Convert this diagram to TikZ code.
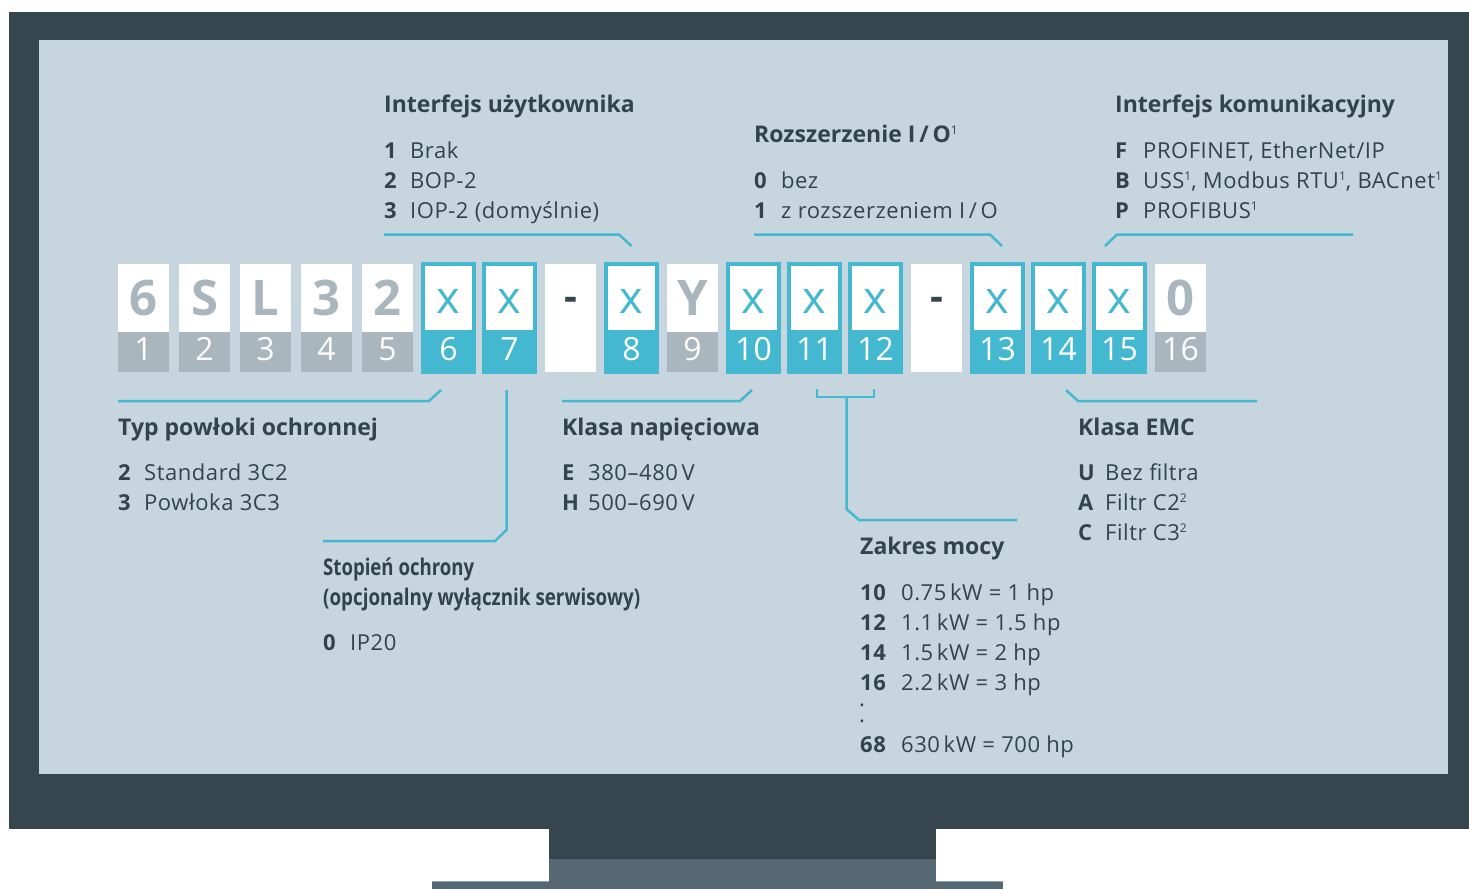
\documentclass[tikz,border=0pt]{standalone}
\usepackage{fontspec}
\setmainfont{Open Sans}
\newfontfamily\itemfont[LetterSpace=2.5]{Open Sans}
\usetikzlibrary{calc}
\definecolor{cframe}{HTML}{35464F}
\definecolor{cscreen}{HTML}{C6D5DE}
\definecolor{cteal}{HTML}{43B8D0}
\definecolor{cgrey}{HTML}{A9B6BE}
\definecolor{ctext}{HTML}{33434C}
\definecolor{cstand}{HTML}{566873}
\definecolor{cedge}{HTML}{929FA7}
\newcommand\keyed[3]{\makebox[#1][l]{\bfseries #2}#3}
\newcommand\sups[1]{\raisebox{7.5pt}{\fontsize{12}{12}\selectfont\mdseries #1}}
\begin{document}
\begin{tikzpicture}[x=1pt,y=-1pt,
  topg/.style={fill=white,inner sep=0pt,minimum width=51pt,minimum height=68pt,
     text=cgrey,font=\fontsize{49}{49}\selectfont\bfseries,text height=35pt,text depth=0pt},
  topt/.style={fill=white,draw=cteal,line width=3.5pt,inner sep=0pt,minimum width=51pt,minimum height=68pt,
     text=cteal,font=\fontsize{45}{45}\selectfont,text height=31pt,text depth=0pt},
  botg/.style={fill=cgrey,inner sep=0pt,minimum width=51pt,minimum height=40pt,
     text=white,font=\fontsize{32}{32}\selectfont,text height=16pt,text depth=0pt},
  bott/.style={fill=cteal,draw=cteal,line width=3.5pt,inner sep=0pt,minimum width=51pt,minimum height=40pt,
     text=white,font=\fontsize{32}{32}\selectfont,text height=16pt,text depth=0pt},
  dashbox/.style={fill=white,inner sep=0pt,minimum width=51pt,minimum height=108pt,
     text=cframe,font=\fontsize{40}{40}\selectfont\bfseries,text height=0pt,text depth=16pt},
  head/.style={anchor=base west,inner sep=0pt,text=ctext,font=\fontsize{23}{30}\selectfont\bfseries},
  itemtext/.style={anchor=base west,inner sep=0pt,text=ctext,font=\fontsize{22}{30}\itemfont},
  conn/.style={draw=cteal,line width=2.5pt}]
\useasboundingbox (0,0) rectangle (1469,889);
% monitor
\fill[white] (0,0) rectangle (1469,889);
\fill[cframe] (9,12) rectangle (1469,829);
\fill[cscreen] (39,40) rectangle (1448,773.5);
\fill[cframe] (549,829) rectangle (936,859);
\fill[cstand] (549,859) rectangle (936,889);
\fill[cstand] (432,881) rectangle (1003,889);
\draw[cedge,line width=1pt] (432,881.5) -- (549,881.5);
\draw[cedge,line width=1pt] (936,881.5) -- (1003,881.5);
% code boxes
\foreach \i/\s/\c in {1/1/6,2/2/S,3/3/L,4/4/3,5/5/2,9/10/Y,16/18/0}{
  \node[topg] (t\i) at ({143.5+61*(\s-1)},298) {\c};
  \node[botg] (n\i) at ({143.5+61*(\s-1)},352) {\i};
}
\foreach \i/\s in {6/6,7/7,8/9,10/11,11/12,12/13,13/15,14/16,15/17}{
  \node[topt] (t\i) at ({143.5+61*(\s-1)},298) {x};
  \node[bott] (n\i) at ({143.5+61*(\s-1)},352) {\i};
}
\node[dashbox] (d1) at ({143.5+61*7},318) {-};
\node[dashbox] (d2) at ({143.5+61*13},318) {-};
% connector points
\coordinate (a1) at (384,234.5);  \coordinate (a2) at (619,234.5);  \coordinate (a3) at (631.5,246);
\coordinate (b1) at (754,234.5);  \coordinate (b2) at (990,234.5);  \coordinate (b3) at (1002,246);
\coordinate (c1) at (1105,246);   \coordinate (c2) at (1117,234.5); \coordinate (c3) at (1353,234.5);
\coordinate (e1) at (118,401);    \coordinate (e2) at (429,401);    \coordinate (e3) at (441,390);
\coordinate (f1) at (506.5,390);  \coordinate (f2) at (506.5,530);  \coordinate (f3) at (495,541);  \coordinate (f4) at (323,541);
\coordinate (g1) at (562,401);    \coordinate (g2) at (740,401);    \coordinate (g3) at (752,390);
\coordinate (k1) at (817,389);    \coordinate (k2) at (817,397);    \coordinate (k3) at (874,397);   \coordinate (k4) at (874,389);
\coordinate (m1) at (846.5,397);  \coordinate (m2) at (846.5,509);  \coordinate (m3) at (859,520);   \coordinate (m4) at (1017,520);
\coordinate (p1) at (1066,390);   \coordinate (p2) at (1078,401);   \coordinate (p3) at (1257,401);
\draw[conn] (a1) -- (a2) -- (a3);
\draw[conn] (b1) -- (b2) -- (b3);
\draw[conn] (c1) -- (c2) -- (c3);
\draw[conn] (e1) -- (e2) -- (e3);
\draw[conn] (f1) -- (f2) -- (f3) -- (f4);
\draw[conn] (g1) -- (g2) -- (g3);
\draw[conn] (k1) -- (k2) -- (k3) -- (k4);
\draw[conn] (m1) -- (m2) -- (m3) -- (m4);
\draw[conn] (p1) -- (p2) -- (p3);
% Interfejs użytkownika
\node[head] (h1) at (384,112) {Interfejs użytkownika};
\node[itemtext] (i1a) at (384,158) {\keyed{26pt}{1}{Brak}};
\node[itemtext] (i1b) at (384,188) {\keyed{26pt}{2}{BOP-2}};
\node[itemtext] (i1c) at (384,218) {\keyed{26pt}{3}{IOP-2 (domyślnie)}};
% Rozszerzenie I/O
\node[head] (h2) at (754,142) {Rozszerzenie I\,/\,O\sups{1}};
\node[itemtext] (i2a) at (754,188) {\keyed{27pt}{0}{bez}};
\node[itemtext] (i2b) at (754,218) {\keyed{27pt}{1}{z rozszerzeniem I\,/\,O}};
% Interfejs komunikacyjny
\node[head] (h3) at (1115,112) {Interfejs komunikacyjny};
\node[itemtext] (i3a) at (1115,158) {\keyed{28pt}{F}{PROFINET, EtherNet/IP}};
\node[itemtext] (i3b) at (1115,188) {\keyed{28pt}{B}{USS\sups{1}, Modbus RTU\sups{1}, BACnet\sups{1}}};
\node[itemtext] (i3c) at (1115,218) {\keyed{28pt}{P}{PROFIBUS\sups{1}}};
% Typ powłoki ochronnej
\node[head] (h4) at (118,435) {Typ powłoki ochronnej};
\node[itemtext] (i4a) at (118,480) {\keyed{26pt}{2}{Standard 3C2}};
\node[itemtext] (i4b) at (118,510) {\keyed{26pt}{3}{Powłoka 3C3}};
% Stopień ochrony
\node[head] (h5a) at (323,575) {\resizebox{151pt}{\height}{Stopień ochrony}};
\node[head] (h5b) at (323,605) {\resizebox{317pt}{\height}{(opcjonalny wyłącznik serwisowy)}};
\node[itemtext] (i5a) at (323,650) {\keyed{27pt}{0}{IP20}};
% Klasa napięciowa
\node[head] (h6) at (562,435) {Klasa napięciowa};
\node[itemtext] (i6a) at (562,480) {\keyed{26pt}{E}{380–480\,V}};
\node[itemtext] (i6b) at (562,510) {\keyed{26pt}{H}{500–690\,V}};
% Klasa EMC
\node[head] (h7) at (1078,435) {Klasa EMC};
\node[itemtext] (i7a) at (1078,480) {\keyed{27pt}{U}{Bez filtra}};
\node[itemtext] (i7b) at (1078,510) {\keyed{27pt}{A}{Filtr C2\sups{2}}};
\node[itemtext] (i7c) at (1078,540) {\keyed{27pt}{C}{Filtr C3\sups{2}}};
% Zakres mocy
\node[head] (h8) at (860,554) {Zakres mocy};
\node[itemtext] (i8a) at (860,600) {\keyed{41pt}{10}{0.75\,kW = 1 hp}};
\node[itemtext] (i8b) at (860,630) {\keyed{41pt}{12}{1.1\,kW = 1.5 hp}};
\node[itemtext] (i8c) at (860,660) {\keyed{41pt}{14}{1.5\,kW = 2 hp}};
\node[itemtext] (i8d) at (860,690) {\keyed{41pt}{16}{2.2\,kW = 3 hp}};
\node[itemtext] (i8e) at (859,722) {\vbox{\baselineskip=16pt\hbox{.}\hbox{.}}};
\node[itemtext] (i8g) at (860,752) {\keyed{41pt}{68}{630\,kW = 700 hp}};
\end{tikzpicture}
\end{document}
